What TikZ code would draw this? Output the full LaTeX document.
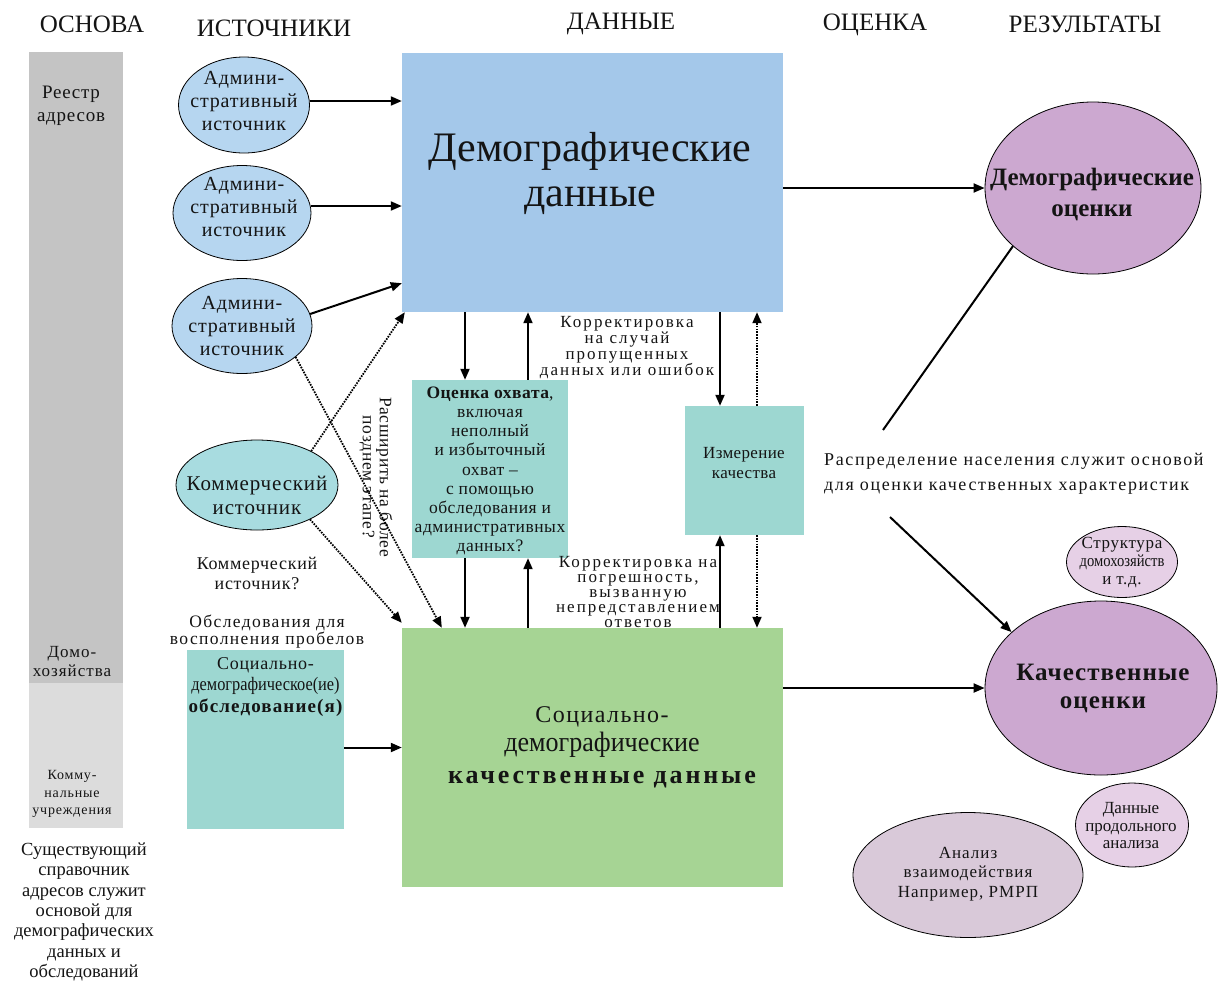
\documentclass[tikz,border=0pt]{standalone}
\usepackage{fontspec}
\setmainfont{Liberation Serif}
\newfontfamily\condfont{Liberation Serif}[FakeStretch=0.86]
\newfontfamily\condfontB{Liberation Serif}[FakeStretch=0.93]
\usetikzlibrary{shapes.geometric,arrows.meta,calc}
\newcommand\fsz[2]{\fontsize{#1}{#2}\selectfont}
\newcommand\lsp[1]{\addfontfeature{LetterSpace=#1}}
\definecolor{grayA}{HTML}{C4C4C4}
\definecolor{grayB}{HTML}{DCDCDC}
\definecolor{admblue}{HTML}{B6D6F0}
\definecolor{comteal}{HTML}{A8DCE0}
\definecolor{demblue}{HTML}{A4C8EA}
\definecolor{tealbox}{HTML}{9DD7D1}
\definecolor{greenbox}{HTML}{A6D494}
\definecolor{purpA}{HTML}{CCA8D0}
\definecolor{purpB}{HTML}{E6D0E6}
\definecolor{purpC}{HTML}{D9C9D9}
\tikzset{
  ell/.style={ellipse, draw=black, line width=0.8pt, inner sep=0pt},
  rbox/.style={rectangle, inner sep=0pt, draw=none},
  txt/.style={inner sep=0pt, align=center, text=black!92},
  arr/.style={line width=2pt, -{Triangle[length=11pt,width=9pt]}},
  dotarr/.style={line width=1.8pt, dash pattern=on 1.6pt off 1.2pt, -{Triangle[length=11pt,width=9pt]}},
  plainline/.style={line width=2pt},
}
\begin{document}
\begin{tikzpicture}[x=1pt,y=-1pt]
\useasboundingbox (0,0) rectangle (1218,983);
\fill[white] (0,0) rectangle (1218,983);

% headers
\node[txt, font=\fsz{25}{28}] (hA) at (92,24) {ОСНОВА};
\node[txt, font=\fsz{25}{28}] (hB) at (274,28) {ИСТОЧНИКИ};
\node[txt, font=\fsz{25}{28}] (hC) at (621,24) {ДАННЫЕ};
\node[txt, font=\fsz{25}{28}] (hD) at (875,25) {ОЦЕНКА};
\node[txt, font=\fsz{25}{28}] (hE) at (1085,24) {РЕЗУЛЬТАТЫ};

% base column
\node[rbox, fill=grayA, minimum width=94, minimum height=631] (barA) at (76,367.5) {};
\node[rbox, fill=grayB, minimum width=94, minimum height=145] (barB) at (76,755.5) {};
\node[txt, font={\fsz{19}{23}\lsp{4}}] (reg) at (71,106) {Реестр\\адресов};
\node[txt, font={\fsz{17}{19}\lsp{6}}] (hh) at (72,662) {Домо-\\хозяйства};
\node[txt, font={\fsz{14}{17.5}\lsp{6}}] (inst) at (72,794) {Комму-\\нальные\\учреждения};
\node[txt, font={\fsz{18.5}{20.4}}] (exist) at (84,912) {Существующий\\справочник\\адресов служит\\основой для\\демографических\\данных и\\обследований};

% sources
\node[ell, fill=admblue, minimum width=131, minimum height=96] (a1) at (244,105) {};
\node[txt, font={\fsz{20}{23}\lsp{4}}] at (244,101) {Админи-\\стративный\\источник};
\node[ell, fill=admblue, minimum width=138, minimum height=95] (a2) at (242,213) {};
\node[txt, font={\fsz{20}{23}\lsp{4}}] at (244,207) {Админи-\\стративный\\источник};
\node[ell, fill=admblue, minimum width=140, minimum height=95] (a3) at (242,326) {};
\node[txt, font={\fsz{20}{23}\lsp{4}}] at (242,326) {Админи-\\стративный\\источник};
\node[ell, fill=comteal, minimum width=162, minimum height=90] (com) at (257,485) {};
\node[txt, font={\fsz{21}{24}\lsp{4}}] at (257,495) {Коммерческий\\источник};
\node[txt, font={\fsz{18}{20}\lsp{4}}] (comq) at (257,573) {Коммерческий\\источник?};
\node[txt, font={\fsz{17.5}{15.5}\lsp{8}}] (gap) at (267,632) {Обследования для\\восполнения пробелов};
\node[rbox, fill=tealbox, minimum width=157, minimum height=179] (surv) at (265.5,739.5) {};
\node[txt, anchor=north, font={\fsz{18}{21}\lsp{4}}] (survt) at (265.5,657) {Социально-\\{\condfont\fsz{19}{21}демографическое(ие)}\\[1pt]{\bfseries\fsz{19}{25}\lsp{6}обследование(я)}};

% data boxes
\node[rbox, fill=demblue, minimum width=381, minimum height=259] (dem) at (592.5,182.5) {};
\node[txt, font={\fsz{42}{45}}] (demt) at (590,173) {Демографические\\данные};
\node[rbox, fill=greenbox, minimum width=381, minimum height=259] (soc) at (592.5,757.5) {};
\node[txt, font={\fsz{24}{29}\lsp{6}}] (soct) at (602,747) {Социально-\\{\condfontB\fsz{28}{30}демографические}\\[3pt]{\bfseries\fsz{26}{33}\lsp{11}качественные данные}};
\node[rbox, fill=tealbox, minimum width=156, minimum height=178] (ov) at (490,469) {};
\node[txt, font={\fsz{17.5}{19.2}\lsp{3}}] (ovt) at (490,471) {\textbf{Оценка охвата},\\включая\\неполный\\и избыточный\\охват –\\с помощью\\обследования и\\административных\\данных?};
\node[rbox, fill=tealbox, minimum width=119, minimum height=129] (iq) at (744.5,470.5) {};
\node[txt, font={\fsz{17}{20}\lsp{2}}] (iqt) at (744,463) {Измерение\\качества};

\node[txt, font={\fsz{17}{16}\lsp{12}}] (corr1) at (627,348) {Корректировка\\на случай\\пропущенных\\данных или ошибок};
\node[txt, font={\fsz{17}{15}\lsp{12}}] (corr2) at (638,592) {Корректировка на\\погрешность,\\вызванную\\непредставлением\\ответов};
\node[txt, rotate=-90, font={\fsz{17.5}{17}\lsp{4}}] (later) at (376,477) {Расширить на более\\позднем этапе?};

% results
\node[ell, fill=purpA, minimum width=216, minimum height=172] (de) at (1093,188) {};
\node[txt, font={\bfseries\fsz{25}{31}}] (det) at (1092,194) {Демографические\\оценки};
\node[ell, fill=purpA, minimum width=232, minimum height=174] (qe) at (1101,688) {};
\node[txt, font={\bfseries\fsz{25}{28}\lsp{4}}] (qet) at (1103,688) {Качественные\\оценки};
\node[ell, fill=purpB, minimum width=111, minimum height=71] (hs) at (1122,562) {};
\node[txt, font={\fsz{17}{18}}] (hst) at (1122,563) {{\lsp{4}Структура}\\{\condfont домохозяйств}\\{\lsp{4}и т.д.}};
\node[ell, fill=purpB, minimum width=113, minimum height=84] (lon) at (1132,825) {};
\node[txt, font={\fsz{17}{17.5}}] (lont) at (1131,826) {Данные\\продольного\\анализа};
\node[ell, fill=purpC, minimum width=230, minimum height=125] (int) at (968,875) {};
\node[txt, font={\fsz{17}{19.5}\lsp{6}}] (intt) at (968,874) {Анализ\\взаимодействия\\Например, РМРП};
\node[txt, anchor=west, align=left, font={\fsz{18}{25}\lsp{9}}] (distr) at (824,474) {Распределение населения служит основой\\для оценки качественных характеристик};

% column x coordinates
\coordinate (xa) at (465,0);
\coordinate (xb) at (528,0);
\coordinate (xc) at (720,0);
\coordinate (xd) at (757,0);
\coordinate (lnA) at (883,430);
\coordinate (lnB) at (890,517);

% connectors: sources -> data
\draw[arr] ([yshift=4pt]a1.east) -- ([yshift=4pt]a1.east -| dem.west);
\draw[arr] ([yshift=7pt]a2.east) -- ([yshift=7pt]a2.east -| dem.west);
\draw[arr] (a3.10) -- ([yshift=29pt]dem.south west);
\draw[dotarr] (a3.-30) -- ([xshift=40pt]soc.north west);
\draw[dotarr] (com.32) -- ([xshift=3pt]dem.south west);
\draw[dotarr] (com.-33) -- ([yshift=5pt]soc.north west);
\draw[arr] ([yshift=-8pt]surv.east) -- ([yshift=-8pt]surv.east -| soc.west);

% data <-> evaluation
\draw[arr] (dem.south -| xa) -- (ov.north -| xa);
\draw[arr] (ov.north -| xb) -- (dem.south -| xb);
\draw[arr] (ov.south -| xa) -- (soc.north -| xa);
\draw[arr] (soc.north -| xb) -- (ov.south -| xb);
\draw[arr] (dem.south -| xc) -- (iq.north -| xc);
\draw[dotarr] (iq.north -| xd) -- (dem.south -| xd);
\draw[arr] (soc.north -| xc) -- (iq.south -| xc);
\draw[dotarr] (iq.south -| xd) -- (soc.north -| xd);

% data -> results
\draw[arr] (dem.east |- de.west) -- (de.west);
\draw[arr] (soc.east |- qe.west) -- (qe.west);
\draw[plainline] (de.216) -- (lnA);
\draw[arr] (lnB) -- (qe.148);
\end{tikzpicture}
\end{document}
